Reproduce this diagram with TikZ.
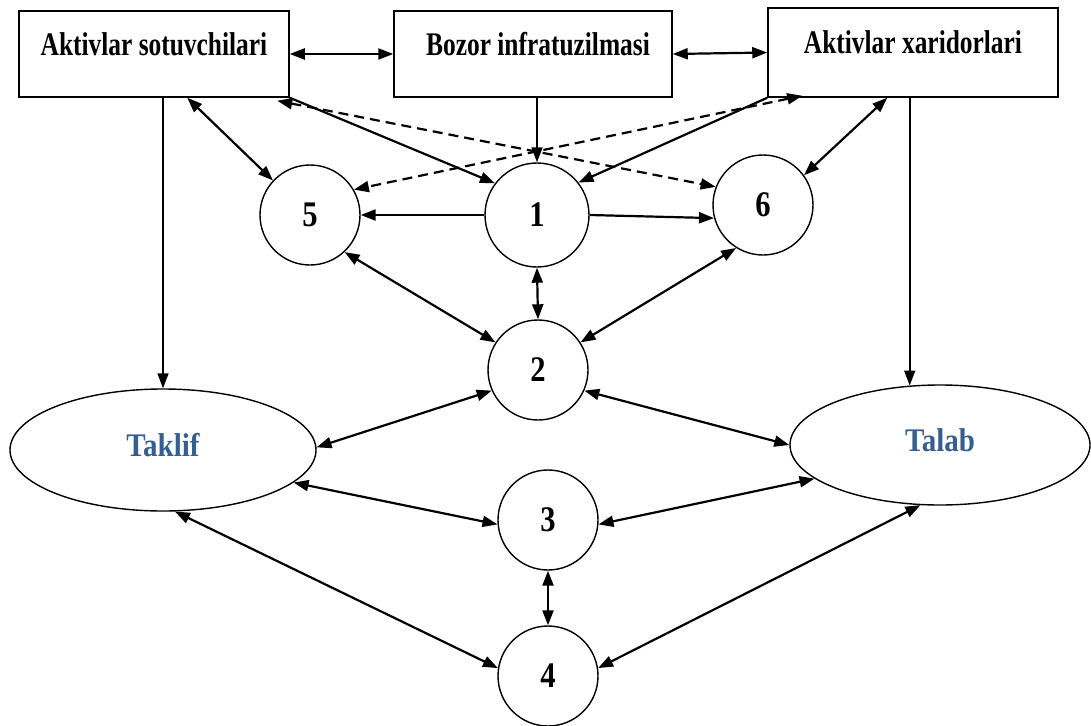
\documentclass[tikz,border=0pt]{standalone}
\usepackage{fontspec}
\setmainfont{Liberation Serif}
\newfontfamily\condfont[FakeStretch=0.77]{Liberation Serif}
\newfontfamily\numfont[FakeStretch=0.85]{Liberation Serif}
\newfontfamily\ellfont[FakeStretch=0.88]{Liberation Serif}
\usetikzlibrary{arrows.meta,shapes.geometric,calc}
\definecolor{tblue}{HTML}{365F91}
\begin{document}
\begin{tikzpicture}[x=1pt,y=-1pt,
  box/.style={draw,line width=1.5pt,inner sep=0pt},
  btxt/.style={inner sep=0pt,font=\condfont\bfseries\fontsize{33}{36}\selectfont},
  circ/.style={circle,draw,line width=1.4pt,minimum size=100pt,inner sep=0pt,font=\numfont\bfseries\fontsize{36}{36}\selectfont},
  ell/.style={ellipse,draw,line width=1.4pt,minimum width=306pt,minimum height=122pt,inner sep=0pt,text=tblue,font=\ellfont\bfseries\fontsize{33}{33}\selectfont},
  tip/.tip={Triangle[length=15pt,width=11pt]},
  arr/.style={line width=2.2pt,-tip},
  darr/.style={line width=2.2pt,tip-tip},
  dsh/.style={dash pattern=on 10pt off 6pt}]
\useasboundingbox (0,0) rectangle (1091,725);
% boxes
\node[box,minimum width=270pt,minimum height=86pt] (s) at (154,54) {};
\node[btxt] (st) at (154,44) {Aktivlar sotuvchilari};
\node[box,minimum width=278pt,minimum height=86pt] (b) at (533,54) {};
\node[btxt] (bt) at (538,44) {Bozor infratuzilmasi};
\node[box,minimum width=290pt,minimum height=89pt] (x) at (913,52.5) {};
\node[btxt] (xt) at (913,42) {Aktivlar xaridorlari};
% circles
\node[circ] (c5) at (310,215) {5};
\node[circ,minimum size=104pt] (c1) at (537,215) {1};
\node[circ] (c6) at (763,205) {6};
\node[circ] (c2) at (538,370) {2};
\node[circ] (c3) at (548,520) {3};
\node[circ] (c4) at (548,676) {4};
% ellipses
\node[ell] (t) at (163,450) {\raisebox{10pt}{Taklif}};
\node[ell,minimum width=300pt,minimum height=120pt] (tl) at (940,445) {\raisebox{10pt}{Talab}};
% connectors
\draw[darr] (s.east) -- (b.west);
\draw[darr] (b.east) -- (x.west);
\draw[arr,line width=1.6pt] (b.south -| c1.north) -- (c1.north);
\draw[arr,line width=1.6pt] (s.south -| t.north) -- (t.north);
\draw[arr,line width=1.6pt] (x.south -| tl.117) -- (tl.117);
\draw[darr] ($(s.south west)+(169,0)$) -- (c5.137);
\draw[arr] (s.south east) -- (c1.143);
\draw[arr] (x.south west) -- (c1.38);
\draw[darr] ($(x.south west)+(120,0)$) -- (c6.36);
\draw[darr,dsh] ($(s.south west)+(259,3)$) -- (c6.159);
\draw[darr,dsh] ($(x.south west)+(35,-2)$) -- (c5.30);
\draw[arr] (c1.west) -- (c5.east);
\draw[arr] (c1.east) -- (c6.195);
\draw[darr] (c1.south) -- (c2.north);
\draw[darr] (c5.313) -- (c2.147);
\draw[darr] (c6.238) -- (c2.33);
\draw[darr] (c2.204) -- (t.1);
\draw[darr] (c2.336) -- (tl.180);
\draw[darr] (t.346) -- (c3.185);
\draw[darr] (tl.195) -- (c3.355);
\draw[darr] (c3.south) -- (c4.north);
\draw[darr] (t.281) -- (c4.171);
\draw[darr] (tl.252) -- (c4.9);
\end{tikzpicture}
\end{document}
